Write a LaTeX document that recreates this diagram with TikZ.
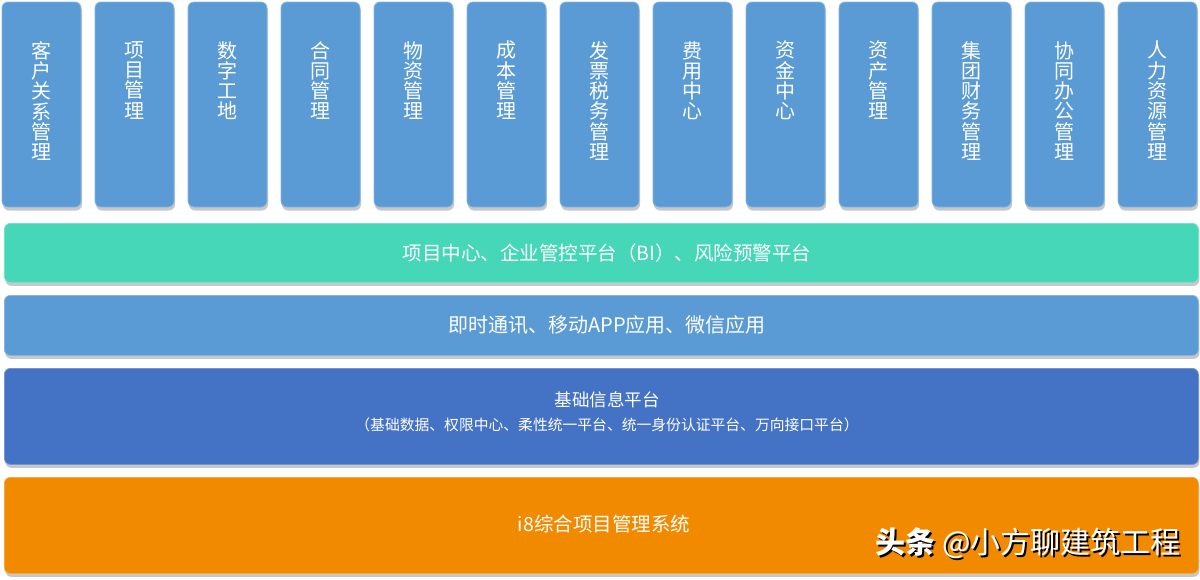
\documentclass[tikz,border=0pt]{standalone}
\usepackage{fontspec}
\setmainfont{Noto Sans CJK SC}
\usetikzlibrary{shadows}
\definecolor{topblue}{HTML}{5B9BD5}
\definecolor{tealc}{HTML}{45D7B7}
\definecolor{darkblue}{HTML}{4472C4}
\definecolor{orangec}{HTML}{F28A00}
\tikzset{
  panel/.style={fill=#1, draw=white!25!#1, line width=0.8pt, rounded corners=6pt, inner sep=0pt,
    drop shadow={shadow xshift=1pt, shadow yshift=-3.5pt, fill=black!22, opacity=1}},
  coltext/.style={text=white, align=center, inner sep=0pt, anchor=north, font=\fontsize{20}{20.3}\selectfont},
  rowtext/.style={text=white, inner sep=0pt, font=\fontsize{19.5}{22}\selectfont},
}
\begin{document}
\begin{tikzpicture}[x=1pt,y=-1pt]
\useasboundingbox (0,0) rectangle (1200,579);
\foreach \t [count=\i from 0] in {
  {客\\户\\关\\系\\管\\理},
  {项\\目\\管\\理},
  {数\\字\\工\\地},
  {合\\同\\管\\理},
  {物\\资\\管\\理},
  {成\\本\\管\\理},
  {发\\票\\税\\务\\管\\理},
  {费\\用\\中\\心},
  {资\\金\\中\\心},
  {资\\产\\管\\理},
  {集\\团\\财\\务\\管\\理},
  {协\\同\\办\\公\\管\\理},
  {人\\力\\资\\源\\管\\理}} {
  \path[panel=topblue] (2+93*\i,2) rectangle (81+93*\i,207);
  \node[coltext] (col\i) at (41.5+93*\i,41) {\t};
}
\node[panel=tealc, minimum width=1194pt, minimum height=59pt, anchor=north west] (bi) at (4,223) {};
\node[rowtext] (bitext) at (607,253) {项目中心、企业管控平台（BI）、风险预警平台};
\node[panel=topblue, minimum width=1194pt, minimum height=60pt, anchor=north west] (im) at (4,295) {};
\node[rowtext, font=\fontsize{20}{22}\selectfont] (imtext) at (607,325) {即时通讯、移动APP应用、微信应用};
\node[panel=darkblue, minimum width=1194pt, minimum height=96pt, anchor=north west] (base) at (4,368) {};
\node[rowtext, font=\fontsize{17.5}{20}\selectfont] (basetitle) at (607,400) {基础信息平台};
\node[rowtext, font=\fontsize{14.8}{16}\selectfont] (basesub) at (607,425) {（基础数据、权限中心、柔性统一平台、统一身份认证平台、万向接口平台）};
\node[panel=orangec, minimum width=1194pt, minimum height=96pt, anchor=north west] (i8) at (4,477) {};
\node[rowtext] (i8text) at (604,524) {i8综合项目管理系统};
\node[text=black, inner sep=0pt, anchor=east, font=\fontsize{30}{32}\selectfont] (wmshadow) at (1183,545.5) {\textbf{头条} @小方聊建筑工程};
\node[text=white, inner sep=0pt, anchor=east, font=\fontsize{30}{32}\selectfont] (wm) at (1181,543.5) {\textbf{头条} @小方聊建筑工程};
\end{tikzpicture}
\end{document}
